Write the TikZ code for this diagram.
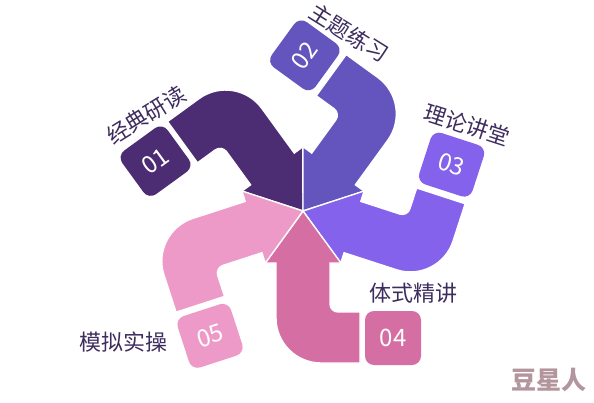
\documentclass[tikz,border=0pt]{standalone}
\usepackage{fontspec}
\setmainfont{Noto Sans CJK SC}
\definecolor{cone}{HTML}{4C2D73}
\definecolor{ctwo}{HTML}{6454BE}
\definecolor{cthree}{HTML}{8462EC}
\definecolor{cfour}{HTML}{D56EA3}
\definecolor{cfive}{HTML}{EE9AC8}
\definecolor{ink}{HTML}{3D2C5E}
\definecolor{cwater}{HTML}{B3959D}

\begin{document}
\begin{tikzpicture}[x=1pt,y=1pt,
    band/.style={draw=white,line width=1.4pt},
    numbox/.style={rounded corners=9pt,minimum width=56pt,minimum height=54pt,inner sep=0pt,text=white,font=\fontsize{24}{24}\selectfont},
    lbl/.style={text=ink,font=\fontsize{22}{22}\selectfont}]
    \useasboundingbox (-303,-191) rectangle (291,211);
    % five hooked arrows around the centre
    \foreach \n/\ang/\tang/\col in {01/-144/36/cone,02/144/54/ctwo,03/72/-18/cthree,04/0/0/cfour,05/-72/18/cfive}{
        \begin{scope}[rotate=\ang]
            \filldraw[band,fill=\col] (0,0) -- (38,-52) -- (27,-52) -- (27,-93)
                arc[start angle=180,end angle=270,radius=8] -- (57,-101) -- (57,-152) -- (18,-152)
                arc[start angle=270,end angle=180,radius=45] -- (-27,-52) -- (-38,-52) -- cycle;
            \node[numbox,fill=\col,rotate=\tang] (box\n) at (90,-127) {\n};
        \end{scope}
    }
    \node[lbl,rotate=32] (read) at (-157,96) {经典研读};
    \node[lbl,rotate=-32] (practice) at (46,178) {主题练习};
    \node[lbl,rotate=-18] (theory) at (164,86) {理论讲堂};
    \node[lbl] (lecture) at (110,-82) {体式精讲};
    \node[lbl] (mock) at (-179,-131) {模拟实操};
    \node[text=cwater,font=\fontsize{25}{25}\selectfont\bfseries] (water) at (246,-169) {豆星人};
\end{tikzpicture}
\end{document}
